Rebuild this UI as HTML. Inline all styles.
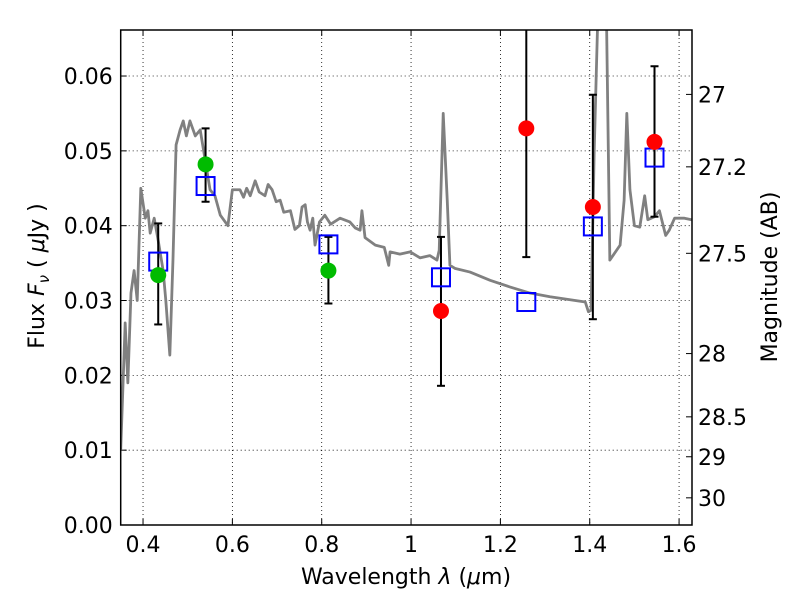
<!DOCTYPE html>
<html><head><meta charset="utf-8"><style>body{margin:0;background:#fff}svg{display:block}text{font-family:"DejaVu Sans","Liberation Sans",sans-serif;fill:#000}</style></head>
<body>
<svg id="chart" width="800" height="600" xmlns="http://www.w3.org/2000/svg"></svg>
<script>
const specWl=[0.35,0.36,0.366,0.373,0.38,0.387,0.395,0.405,0.411,0.416,0.425,0.434,0.445,0.451,0.46,0.467,0.474,0.483,0.49,0.497,0.505,0.517,0.528,0.539,0.55,0.561,0.573,0.59,0.6,0.617,0.625,0.632,0.64,0.651,0.66,0.673,0.68,0.689,0.698,0.707,0.715,0.73,0.74,0.75,0.756,0.763,0.768,0.774,0.78,0.785,0.795,0.807,0.82,0.841,0.863,0.875,0.886,0.89,0.897,0.92,0.94,0.95,0.953,0.975,0.998,1.02,1.042,1.058,1.063,1.072,1.081,1.087,1.098,1.132,1.177,1.222,1.266,1.311,1.345,1.39,1.397,1.403,1.41,1.419,1.437,1.445,1.468,1.477,1.483,1.49,1.5,1.512,1.523,1.53,1.545,1.556,1.57,1.578,1.59,1.612,1.628];
const specFlux=[0.010,0.027,0.019,0.031,0.034,0.030,0.045,0.041,0.042,0.039,0.041,0.038,0.034,0.030,0.0227,0.0354,0.0508,0.0528,0.054,0.052,0.054,0.052,0.0528,0.0488,0.0448,0.044,0.0414,0.040,0.0448,0.0448,0.0438,0.045,0.044,0.046,0.0445,0.044,0.0455,0.0448,0.0432,0.0434,0.0418,0.042,0.0395,0.040,0.0425,0.0428,0.0405,0.0394,0.041,0.0374,0.0405,0.0414,0.0402,0.041,0.0405,0.0397,0.0394,0.042,0.0384,0.0374,0.0371,0.0347,0.0365,0.0362,0.0365,0.0357,0.036,0.0354,0.0367,0.055,0.0434,0.0347,0.0343,0.0338,0.0327,0.0318,0.031,0.0305,0.0302,0.0298,0.0285,0.0287,0.050,0.070,0.070,0.0354,0.0374,0.0434,0.055,0.0448,0.040,0.0398,0.044,0.0408,0.0412,0.042,0.0387,0.0394,0.041,0.041,0.0408];
const greenWl=[0.434,0.54,0.815];
const greenFlux=[0.0334,0.0482,0.034];
const greenLo=[0.0268,0.0432,0.0296];
const greenHi=[0.0403,0.0530,0.0385];
const redWl=[1.067,1.258,1.407,1.545];
const redFlux=[0.0286,0.0530,0.0425,0.0512];
const redLo=[0.0186,0.0358,0.0275,0.0412];
const redHi=[0.0385,0.0700,0.0575,0.0613];
const modelWl=[0.434,0.54,0.815,1.067,1.258,1.407,1.545];
const modelFlux=[0.0352,0.0453,0.0375,0.0331,0.0298,0.0399,0.0491];
const xTicks=[0.4,0.6,0.8,1.0,1.2,1.4,1.6];
const xTickLabels=["0.4","0.6","0.8","1","1.2","1.4","1.6"];
const yTicks=[0,0.01,0.02,0.03,0.04,0.05,0.06];
const yTickLabels=["0.00","0.01","0.02","0.03","0.04","0.05","0.06"];
const magTicks=[27,27.2,27.5,28,28.5,29,30];
const magTickLabels=["27","27.2","27.5","28","28.5","29","30"];

const L=120.7,R=692,T=30,B=525,X0=0.35,X1=0.35+(692-120.7)/446.7,Y1=(525-30)/7483;
const sx=v=>L+(v-X0)/(X1-X0)*(R-L);
const sy=v=>B-v/Y1*(B-T);
const svg=document.getElementById('chart');const NS='http://www.w3.org/2000/svg';
function mk(tag,a,p){const e=document.createElementNS(NS,tag);for(const k in a)e.setAttribute(k,a[k]);(p||svg).appendChild(e);return e;}
const defs=mk('defs',{});const cp=mk('clipPath',{id:'clip'},defs);mk('rect',{x:L,y:T,width:R-L,height:B-T},cp);
xTicks.forEach((v,i)=>{const g=mk('line',{x1:sx(v),x2:sx(v),y1:T,y2:B,stroke:'#000','stroke-width':0.8,'stroke-dasharray':'1,3'});

const t=mk('line',{x1:sx(v),x2:sx(v),y1:B,y2:B-6,stroke:'#000'});
mk('line',{x1:sx(v),x2:sx(v),y1:T,y2:T+6,stroke:'#000'});
const l=mk('text',{x:sx(v),y:B+27,'text-anchor':'middle','font-size':22});l.textContent=xTickLabels[i];
});
yTicks.forEach((v,i)=>{const g=mk('line',{x1:L,x2:R,y1:sy(v),y2:sy(v),stroke:'#000','stroke-width':0.8,'stroke-dasharray':'1,3'});

const t=mk('line',{x1:L,x2:L+6,y1:sy(v),y2:sy(v),stroke:'#000'});
const l=mk('text',{x:L-8,y:sy(v)+8,'text-anchor':'end','font-size':22});l.textContent=yTickLabels[i];
});
magTicks.forEach((m,i)=>{const f=Math.pow(10,(23.9-m)/2.5);const y=sy(f);
const t=mk('line',{x1:R-6,x2:R,y1:y,y2:y,stroke:'#000'});
const l=mk('text',{x:R+6,y:y+8,'font-size':22});l.textContent=magTickLabels[i];
});
const pl=mk('polyline',{points:specWl.map((w,i)=>sx(w)+','+sy(specFlux[i])).join(' '),fill:'none',stroke:'#808080','stroke-width':2.8,'stroke-linejoin':'round','clip-path':'url(#clip)'});

function err(w,lo,hi){const g=mk('g',{'clip-path':'url(#clip)',stroke:'#000','stroke-width':2});
mk('line',{x1:sx(w),x2:sx(w),y1:sy(lo),y2:sy(hi)},g);mk('line',{x1:sx(w)-4,x2:sx(w)+4,y1:sy(lo),y2:sy(lo)},g);mk('line',{x1:sx(w)-4,x2:sx(w)+4,y1:sy(hi),y2:sy(hi)},g);
}
greenWl.forEach((w,i)=>err(w,greenLo[i],greenHi[i]));
redWl.forEach((w,i)=>err(w,redLo[i],redHi[i]));
modelWl.forEach((w,i)=>{const r=mk('rect',{x:sx(w)-9,y:sy(modelFlux[i])-9,width:18,height:18,fill:'none',stroke:'#0000ff','stroke-width':2});
});
greenWl.forEach((w,i)=>{const c=mk('circle',{cx:sx(w),cy:sy(greenFlux[i]),r:8,fill:'#00bb00'});
});
redWl.forEach((w,i)=>{const c=mk('circle',{cx:sx(w),cy:sy(redFlux[i]),r:8,fill:'#ff0000'});
});
const fr=mk('rect',{x:L,y:T,width:R-L,height:B-T,fill:'none',stroke:'#000','stroke-width':1.5});

const xl=mk('text',{x:406,y:584,'text-anchor':'middle','font-size':22});xl.innerHTML='Wavelength  <tspan font-style="italic">λ</tspan> (<tspan font-style="italic">μ</tspan>m)';

const yl=mk('text',{x:0,y:0,'text-anchor':'middle','font-size':22,transform:'translate(44,276) rotate(-90)'});yl.innerHTML='Flux  <tspan font-style="italic">F</tspan><tspan font-style="italic" font-size="15" dy="5">ν</tspan><tspan dy="-5">  ( </tspan><tspan font-style="italic">μ</tspan>Jy )';

const ml=mk('text',{x:0,y:0,'text-anchor':'middle','font-size':22,transform:'translate(777,277) rotate(-90)'});ml.textContent='Magnitude (AB)';

</script>
</body></html>
